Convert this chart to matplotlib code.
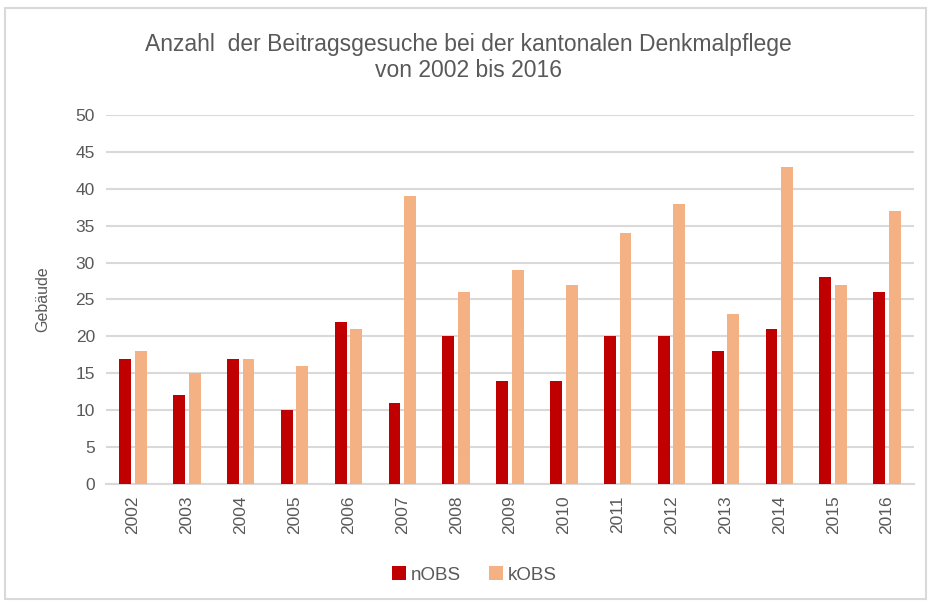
import numpy as np
import matplotlib.pyplot as plt
from matplotlib.patches import Rectangle

plt.rcParams['font.family'] = ['Liberation Sans', 'DejaVu Sans']

years = ['2002', '2003', '2004', '2005', '2006', '2007', '2008', '2009',
         '2010', '2011', '2012', '2013', '2014', '2015', '2016']
nobs = [17, 12, 17, 10, 22, 11, 20, 14, 14, 20, 20, 18, 21, 28, 26]
kobs = [18, 15, 17, 16, 21, 39, 26, 29, 27, 34, 38, 23, 43, 27, 37]

grey = '#595959'
fig = plt.figure(figsize=(9.31, 6.04), dpi=100)
ax = fig.add_axes([0.1139, 0.1987, 0.8678, 0.6109])

x = np.arange(len(years))
w = 0.22
ax.bar(x - w / 2 - 0.035, nobs, w, color='#C00000', label='nOBS', zorder=3)
ax.bar(x + w / 2 + 0.035, kobs, w, color='#F4B183', label='kOBS', zorder=3)

ax.set_xlim(-0.5, len(years) - 0.5)
ax.set_ylim(0, 50)
ax.set_yticks(range(0, 51, 5))
ax.grid(axis='y', color='#D9D9D9', linewidth=1.5, zorder=0)
for s in ['top', 'right', 'left']:
    ax.spines[s].set_visible(False)
ax.spines['bottom'].set_color('#D9D9D9')
ax.spines['bottom'].set_linewidth(1.5)
ax.tick_params(length=0, labelsize=12.5, labelcolor=grey, pad=8)
ax.set_xticks(x)
ax.set_xticklabels(years, rotation=90)
ax.set_ylabel('Gebäude', color=grey, fontsize=11.5, labelpad=18)

fig.text(0.503, 0.905, 'Anzahl  der Beitragsgesuche bei der kantonalen Denkmalpflege\nvon 2002 bis 2016',
         ha='center', va='center', fontsize=16.5, color=grey, linespacing=1.15)

fig.legend(loc='center', bbox_to_anchor=(0.51, 0.048), ncol=2, frameon=False,
           fontsize=13.5, labelcolor=grey, handlelength=0.7, handleheight=0.7,
           handletextpad=0.3, columnspacing=1.5)

fig.patches.append(Rectangle((0.005, 0.008), 0.99, 0.978, transform=fig.transFigure,
                             fill=False, edgecolor='#D9D9D9', linewidth=1.5))

fig.savefig('out.png', dpi=100)
